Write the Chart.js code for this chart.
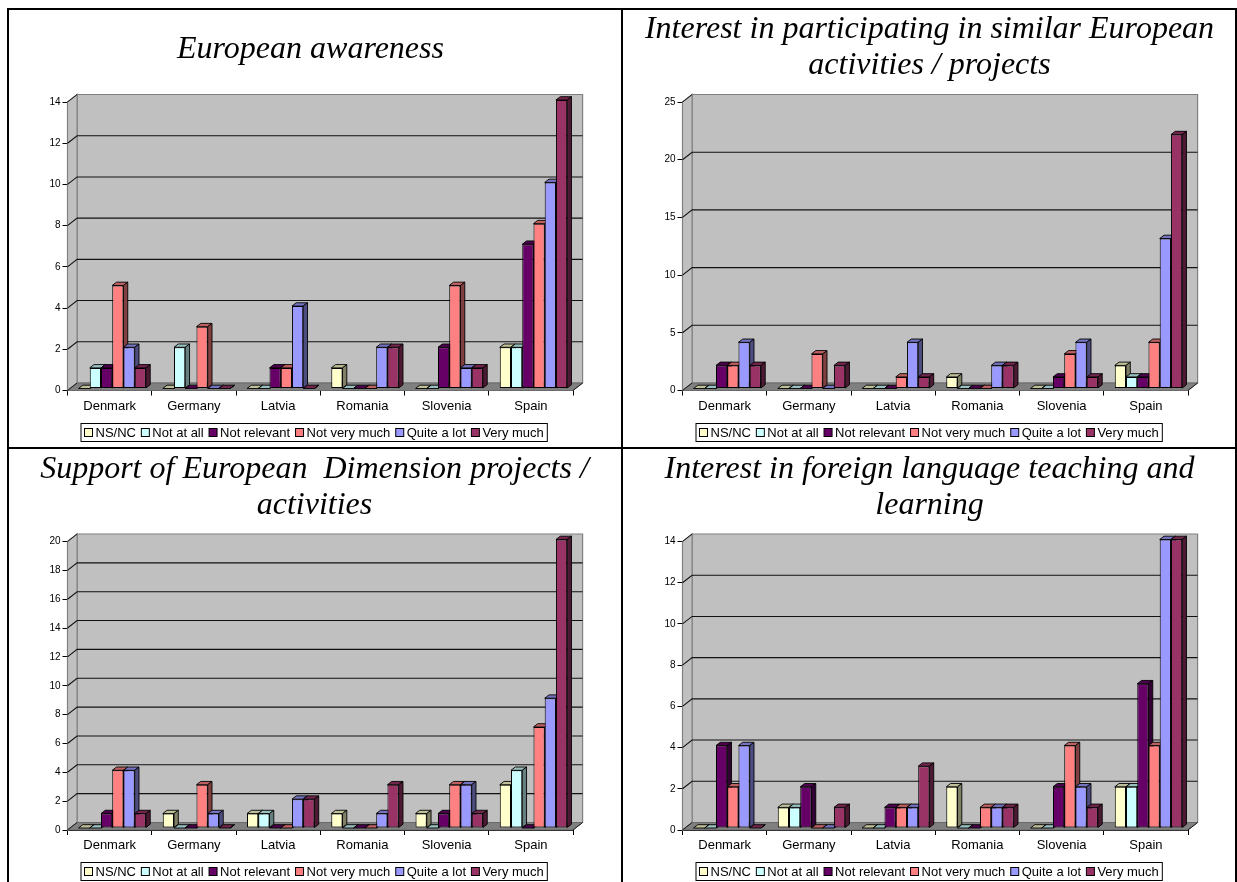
<!DOCTYPE html>
<html>
<head>
<meta charset="utf-8">
<script src="https://cdn.jsdelivr.net/npm/chart.js@4"></script>
<style>
html,body{margin:0;padding:0;background:#fff;width:1237px;height:882px;overflow:hidden}
canvas{position:absolute;display:block}
.rule{position:absolute;background:#000}
</style>
</head>
<body>
<div class="rule" style="left:7px;top:8px;width:1230px;height:2px"></div>
<div class="rule" style="left:7px;top:447px;width:1230px;height:2px"></div>
<div class="rule" style="left:7px;top:8px;width:2px;height:874px"></div>
<div class="rule" style="left:621px;top:8px;width:2px;height:874px"></div>
<div class="rule" style="left:1235px;top:8px;width:2px;height:874px"></div>
<script>
const categories = ['Denmark','Germany','Latvia','Romania','Slovenia','Spain'];
const seriesNames = ['NS/NC','Not at all','Not relevant','Not very much','Quite a lot','Very much'];
const seriesColors = ['#FFFFCC','#CCFFFF','#660066','#FF8080','#9999FF','#993366'];

const awarenessTitle = ['European awareness '];
const awarenessNsNc = [0,0,0,1,0,2];
const awarenessNotAtAll = [1,2,0,0,0,2];
const awarenessNotRelevant = [1,0,1,0,2,7];
const awarenessNotVeryMuch = [5,3,1,0,5,8];
const awarenessQuiteALot = [2,0,4,2,1,10];
const awarenessVeryMuch = [1,0,0,2,1,14];

const interestTitle = ['Interest in participating in similar European','activities / projects'];
const interestNsNc = [0,0,0,1,0,2];
const interestNotAtAll = [0,0,0,0,0,1];
const interestNotRelevant = [2,0,0,0,1,1];
const interestNotVeryMuch = [2,3,1,0,3,4];
const interestQuiteALot = [4,0,4,2,4,13];
const interestVeryMuch = [2,2,1,2,1,22];

const supportTitle = ['Support of European  Dimension projects /','activities'];
const supportNsNc = [0,1,1,1,1,3];
const supportNotAtAll = [0,0,1,0,0,4];
const supportNotRelevant = [1,0,0,0,1,0];
const supportNotVeryMuch = [4,3,0,0,3,7];
const supportQuiteALot = [4,1,2,1,3,9];
const supportVeryMuch = [1,0,2,3,1,20];

const languageTitle = ['Interest in foreign language teaching and','learning'];
const languageNsNc = [0,1,0,2,0,2];
const languageNotAtAll = [0,1,0,0,0,2];
const languageNotRelevant = [4,2,1,0,2,7];
const languageNotVeryMuch = [2,0,1,1,4,4];
const languageQuiteALot = [4,0,1,1,2,14];
const languageVeryMuch = [0,1,3,1,1,14];

const DEPTH_X = 9.6, DEPTH_Y = 7.5;
const BAR_SHIFT_X = 2.6, BAR_SHIFT_Y = 2.0;
const BAR_DX = 4.3, BAR_DY = 3.3;
const SANS = '"Liberation Sans", Arial, sans-serif';

function shade(hex, f){
  const n = parseInt(hex.slice(1),16);
  const c = [n>>16,(n>>8)&255,n&255].map(v=>Math.round(v*f));
  return `rgb(${c[0]},${c[1]},${c[2]})`;
}
function poly(ctx, pts, fill, stroke, w){
  ctx.beginPath();
  pts.forEach((p,i)=> i?ctx.lineTo(p[0],p[1]):ctx.moveTo(p[0],p[1]));
  ctx.closePath();
  if(fill){ctx.fillStyle=fill;ctx.fill();}
  if(stroke){ctx.strokeStyle=stroke;ctx.lineWidth=w||1;ctx.stroke();}
}

const scene3d = {
  id:'scene3d',
  beforeDatasetsDraw(chart){
    const {ctx,chartArea:a,scales:{y}} = chart;
    const l=a.left,r=a.right,t=a.top,b=a.bottom;
    ctx.save();
    poly(ctx,[[l+DEPTH_X,t-DEPTH_Y],[r+DEPTH_X,t-DEPTH_Y],[r+DEPTH_X,b-DEPTH_Y],[l+DEPTH_X,b-DEPTH_Y]],'#C0C0C0','#808080',1.2);
    poly(ctx,[[l,t],[l+DEPTH_X,t-DEPTH_Y],[l+DEPTH_X,b-DEPTH_Y],[l,b]],'#C0C0C0','#808080',1.2);
    poly(ctx,[[l,b],[r,b],[r+DEPTH_X,b-DEPTH_Y],[l+DEPTH_X,b-DEPTH_Y]],'#808080','#6a6a6a',1);
    ctx.strokeStyle='#111';ctx.lineWidth=1.1;
    y.ticks.forEach(tk=>{
      if(tk.value===0||tk.value===y.max)return;
      const py=y.getPixelForValue(tk.value);
      ctx.beginPath();ctx.moveTo(l,py);ctx.lineTo(l+DEPTH_X,py-DEPTH_Y);ctx.lineTo(r+DEPTH_X,py-DEPTH_Y);ctx.stroke();
    });
    ctx.strokeStyle='#1c1c1c';ctx.lineWidth=1;
    [t,b].forEach(py=>{ctx.beginPath();ctx.moveTo(l,py);ctx.lineTo(l+DEPTH_X,py-DEPTH_Y);ctx.stroke();});
    ctx.beginPath();ctx.moveTo(r,b);ctx.lineTo(r+DEPTH_X,b-DEPTH_Y);ctx.stroke();
    ctx.restore();
  },
  beforeDatasetDraw(){ return false; },
  afterDatasetsDraw(chart){
    const {ctx} = chart;
    ctx.save();
    ctx.translate(BAR_SHIFT_X,-BAR_SHIFT_Y);
    chart.data.datasets.forEach((ds,i)=>{
      const col = ds.backgroundColor;
      chart.getDatasetMeta(i).data.forEach(el=>{
        const L=el.x-el.width/2,R=el.x+el.width/2,T=el.y,B=el.base;
        poly(ctx,[[L,T],[R,T],[R+BAR_DX,T-BAR_DY],[L+BAR_DX,T-BAR_DY]],shade(col,0.75),'#000',0.9);
        poly(ctx,[[R,T],[R+BAR_DX,T-BAR_DY],[R+BAR_DX,B-BAR_DY],[R,B]],shade(col,0.5),'#000',0.9);
        if(B-T>0.5) el.draw(ctx);
      });
    });
    ctx.restore();
  },
  afterDraw(chart){
    const {ctx} = chart;
    const o = chart.options.plugins.scene3d;
    ctx.save();
    ctx.font='13px '+SANS;
    ctx.textBaseline='middle';
    const box=8,gapBoxText=3,gapItems=5.4,pad=3.5,h=18;
    let w=pad*2-gapItems;
    seriesNames.forEach(n=>{w+=box+gapBoxText+ctx.measureText(n).width+gapItems;});
    const lx=o.legendX, ly=o.legendY;
    ctx.fillStyle='#fff';ctx.strokeStyle='#000';ctx.lineWidth=1;
    ctx.fillRect(lx+.5,ly+.5,w,h);ctx.strokeRect(lx+.5,ly+.5,w,h);
    let x=lx+pad+.5;
    seriesNames.forEach((n,i)=>{
      ctx.fillStyle=seriesColors[i];ctx.fillRect(x,ly+5.5,box,box);
      ctx.strokeStyle='#000';ctx.strokeRect(x,ly+5.5,box,box);
      ctx.fillStyle='#000';
      ctx.fillText(n,x+box+gapBoxText,ly+h/2+1);
      x+=box+gapBoxText+ctx.measureText(n).width+gapItems;
    });
    ctx.restore();
  }
};

function makeChart(cell,plot,title,vals,maxY,step,legendX,legendY){
  const c=document.createElement('canvas');
  c.width=cell.w;c.height=cell.h;
  c.style.left=cell.x+'px';c.style.top=cell.y+'px';
  c.style.width=cell.w+'px';c.style.height=cell.h+'px';
  document.body.appendChild(c);
  const lineH=36;
  new Chart(c.getContext('2d'),{
    type:'bar',
    data:{labels:categories,datasets:seriesNames.map((n,i)=>({
      label:n,data:vals[i],backgroundColor:seriesColors[i],borderColor:'#000',borderWidth:1,borderSkipped:false,
      barPercentage:1,categoryPercentage:0.8,inflateAmount:0}))},
    options:{
      responsive:false,animation:false,
      layout:{autoPadding:false,padding:0},
      plugins:{
        legend:{display:false},tooltip:{enabled:false},
        title:{display:true,text:title,color:'#000',
          font:{family:'"Liberation Serif","Times New Roman",serif',style:'italic',size:32,weight:'normal',lineHeight:lineH/32},
          padding:{top:plot.titleTop,bottom:plot.t-cell.y-plot.titleTop-lineH*title.length}},
        scene3d:{legendX:legendX-cell.x,legendY:legendY-cell.y}
      },
      scales:{
        x:{
          afterFit(s){s.height=cell.y+cell.h-plot.b;},
          grid:{display:true,offset:true,drawOnChartArea:false,drawTicks:true,tickLength:5,color:'#000'},
          border:{color:'#000',width:1},
          ticks:{font:{family:SANS,size:13},color:'#000',padding:3,maxRotation:0,autoSkip:false}
        },
        y:{
          min:0,max:maxY,
          afterFit(s){s.width=plot.l-cell.x;},
          grid:{drawOnChartArea:false,drawTicks:true,tickLength:5,color:'#000'},
          border:{color:'#404040',width:2},
          ticks:{stepSize:step,font:{family:SANS,size:10},color:'#000',padding:2}
        },
        spacer:{
          axis:'y',position:'right',
          afterFit(s){s.width=cell.x+cell.w-plot.r;},
          grid:{display:false},border:{display:false},ticks:{display:false}
        }
      }
    },
    plugins:[scene3d]
  });
}

makeChart({x:9,y:10,w:611,h:436},{l:67.5,r:573,t:102,b:390.5,titleTop:22},awarenessTitle,
  [awarenessNsNc,awarenessNotAtAll,awarenessNotRelevant,awarenessNotVeryMuch,awarenessQuiteALot,awarenessVeryMuch],14,2,80.5,423);
makeChart({x:623,y:10,w:613,h:436},{l:682.5,r:1188,t:102,b:390.5,titleTop:1.5},interestTitle,
  [interestNsNc,interestNotAtAll,interestNotRelevant,interestNotVeryMuch,interestQuiteALot,interestVeryMuch],25,5,695.5,423);
makeChart({x:9,y:449,w:611,h:433},{l:67.5,r:573,t:541.5,b:830,titleTop:3},supportTitle,
  [supportNsNc,supportNotAtAll,supportNotRelevant,supportNotVeryMuch,supportQuiteALot,supportVeryMuch],20,2,80.5,862);
makeChart({x:623,y:449,w:613,h:433},{l:682.5,r:1188,t:541.5,b:830,titleTop:3},languageTitle,
  [languageNsNc,languageNotAtAll,languageNotRelevant,languageNotVeryMuch,languageQuiteALot,languageVeryMuch],14,2,695.5,862);
</script>
</body>
</html>
